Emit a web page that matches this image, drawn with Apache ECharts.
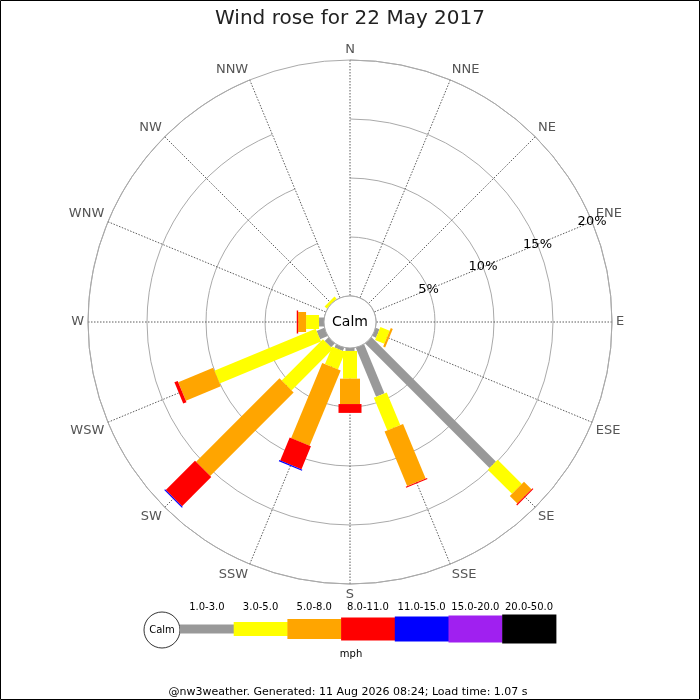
<!DOCTYPE html>
<html>
<head>
<meta charset="utf-8">
<title>Wind rose</title>
<script src="https://cdn.jsdelivr.net/npm/echarts@6/dist/echarts.min.js"></script>
<style>
  html, body { margin: 0; padding: 0; background: #fff; }
  #windRose { width: 700px; height: 700px; }
</style>
</head>
<body>
<div id="windRose"></div>
<script>
var directions = ['N', 'NNE', 'NE', 'ENE', 'E', 'ESE', 'SE', 'SSE',
                  'S', 'SSW', 'SW', 'WSW', 'W', 'WNW', 'NW', 'NNW'];
var speedClasses = ['1.0-3.0', '3.0-5.0', '5.0-8.0', '8.0-11.0', '11.0-15.0', '15.0-20.0', '20.0-50.0'];
var classColors = ['#999999', '#ffff00', '#ffa500', '#ff0000', '#0000ff', '#a020f0', '#000000'];
var classWidths = [9, 14, 20, 23, 25, 27, 29];
var radiusTicks = [5, 10, 15, 20];

// % of the day, per direction (N..NNW), one array per speed class
var speed1to3   = [0, 0, 0, 0, 0, 0.34, 14.9, 4.5, 0.25, 0.3, 0.45, 0.7, 0.42, 0, 0, 0];
var speed3to5   = [0, 0, 0, 0, 0, 0.85, 2.9, 3.0, 2.35, 1.6, 4.95, 9.3, 1.1, 0, 0.25, 0];
var speed5to8   = [0, 0, 0, 0, 0, 0.18, 0.9, 5.0, 2.15, 6.9, 10.0, 3.2, 0.67, 0, 0, 0];
var speed8to11  = [0, 0, 0, 0, 0, 0, 0.1, 0.1, 0.75, 2.1, 3.5, 0.3, 0.12, 0, 0, 0];
var speed11to15 = [0, 0, 0, 0, 0, 0, 0, 0, 0, 0.1, 0.1, 0, 0, 0, 0, 0];
var speed15to20 = [0, 0, 0, 0, 0, 0, 0, 0, 0, 0, 0, 0, 0, 0, 0, 0];
var speed20to50 = [0, 0, 0, 0, 0, 0, 0, 0, 0, 0, 0, 0, 0, 0, 0, 0];
var classValues = [speed1to3, speed3to5, speed5to8, speed8to11, speed11to15, speed15to20, speed20to50];

var titleText = 'Wind rose for 22 May 2017';
var footerText = '@nw3weather. Generated: 11 Aug 2026 08:24; Load time: 1.07 s';

var cx = 350, cy = 322, rCalm = 26, rOuter = 262;
var fontName = 'DejaVu Sans';

// stack the classes: each item is [end, direction, start]
var running = directions.map(function () { return 0; });
var stackedData = classValues.map(function (vals) {
    return vals.map(function (v, i) {
        var start = running[i];
        running[i] += v;
        return [running[i], i, start];
    });
});

function makeRender(k) {
    return function (params, api) {
        var end = api.value(0), dir = api.value(1), start = api.value(2);
        if (!(end > start)) return;
        var cs = params.coordSys;
        var p0 = api.coord([start, dir]);
        var p1 = api.coord([end, dir]);
        var dx = p1[0] - cs.cx, dy = p1[1] - cs.cy;
        var len = Math.sqrt(dx * dx + dy * dy);
        var h = classWidths[k] / 2;
        var nx = -dy / len * h, ny = dx / len * h;
        return {
            type: 'polygon',
            shape: { points: [
                [p0[0] + nx, p0[1] + ny], [p1[0] + nx, p1[1] + ny],
                [p1[0] - nx, p1[1] - ny], [p0[0] - nx, p0[1] - ny]
            ] },
            style: { fill: classColors[k] }
        };
    };
}

var series = speedClasses.map(function (name, k) {
    return {
        type: 'custom',
        name: name,
        coordinateSystem: 'polar',
        polarIndex: 0,
        renderItem: makeRender(k),
        data: stackedData[k],
        silent: true,
        animation: false
    };
});

// legend strip at the bottom
var legendX0 = 180, legendStep = 53.7, legendY = 629;
var graphics = [
    { type: 'rect', shape: { x: 0.5, y: 0.5, width: 699, height: 699 },
      style: { fill: 'none', stroke: '#000', lineWidth: 1 }, z: 20 },
    { type: 'circle', shape: { cx: cx, cy: cy, r: rCalm },
      style: { fill: '#fff', stroke: '#aaa', lineWidth: 1 }, z: 20 },
    { type: 'text', x: cx, y: cy,
      style: { text: 'Calm', fill: '#000', font: '14px "DejaVu Sans"', align: 'center', verticalAlign: 'middle' }, z: 21 },
    { type: 'circle', shape: { cx: 162, cy: legendY + 1, r: 18 },
      style: { fill: '#fff', stroke: '#000', lineWidth: 0.8 }, z: 20 },
    { type: 'text', x: 162, y: legendY + 1,
      style: { text: 'Calm', fill: '#000', font: '10px "DejaVu Sans"', align: 'center', verticalAlign: 'middle' }, z: 21 },
    { type: 'text', x: 351, y: 654,
      style: { text: 'mph', fill: '#000', font: '10px "DejaVu Sans"', align: 'center', verticalAlign: 'middle' }, z: 21 },
    { type: 'text', x: 348, y: 692,
      style: { text: footerText, fill: '#000', font: '11px "DejaVu Sans"', align: 'center', verticalAlign: 'middle' }, z: 21 }
];
speedClasses.forEach(function (name, k) {
    var x = legendX0 + k * legendStep;
    graphics.push({ type: 'rect',
        shape: { x: x, y: legendY - classWidths[k] / 2, width: legendStep + 0.5, height: classWidths[k] },
        style: { fill: classColors[k] }, z: 20 });
    graphics.push({ type: 'text', x: x + legendStep / 2, y: 607,
        style: { text: name, fill: '#000', font: '10px "DejaVu Sans"', align: 'center', verticalAlign: 'middle' }, z: 21 });
});

var chart = echarts.init(document.getElementById('windRose'));
var option = {
    backgroundColor: '#fff',
    animation: false,
    textStyle: { fontFamily: fontName },
    title: {
        text: titleText,
        left: 'center',
        top: 4,
        textStyle: { fontSize: 20, fontWeight: 'normal', color: '#222', fontFamily: fontName }
    },
    polar: [
        { center: [cx, cy], radius: [rCalm, rOuter] },
        { center: [cx, cy], radius: [rCalm, rOuter] }
    ],
    angleAxis: [{
        polarIndex: 0,
        type: 'category',
        data: directions,
        boundaryGap: false,
        startAngle: 90,
        clockwise: true,
        axisLine: { lineStyle: { color: '#aaa', width: 1 } },
        axisTick: { show: false },
        axisLabel: { interval: 0, color: '#555', fontSize: 13, margin: 4, fontFamily: fontName },
        splitLine: { show: true, interval: 0, lineStyle: { color: '#333', width: 0.8, type: [1.5, 1.5] } }
    }, {
        polarIndex: 1,
        type: 'value',
        min: 0,
        max: 360,
        startAngle: 22.5,
        clockwise: true,
        axisLine: { show: false },
        axisTick: { show: false },
        axisLabel: { show: false },
        splitLine: { show: false }
    }],
    radiusAxis: [{
        polarIndex: 0,
        min: 0,
        max: 20,
        interval: 5,
        axisLine: { show: false },
        axisTick: { show: false },
        axisLabel: { show: false },
        splitLine: { show: true, lineStyle: { color: '#aaa', width: 1 } }
    }, {
        polarIndex: 1,
        min: 0,
        max: 20,
        interval: 5,
        z: 15,
        axisLine: { show: false },
        axisTick: { show: false },
        splitLine: { show: false },
        axisLabel: {
            margin: 0,
            align: 'center',
            verticalAlign: 'middle',
            padding: [3, 0, 0, 0],
            color: '#000',
            fontSize: 13,
            fontFamily: fontName,
            formatter: function (v) { return radiusTicks.indexOf(v) >= 0 ? v + '%' : ''; }
        }
    }],
    graphic: graphics,
    series: series
};
chart.setOption(option);
</script>
</body>
</html>
